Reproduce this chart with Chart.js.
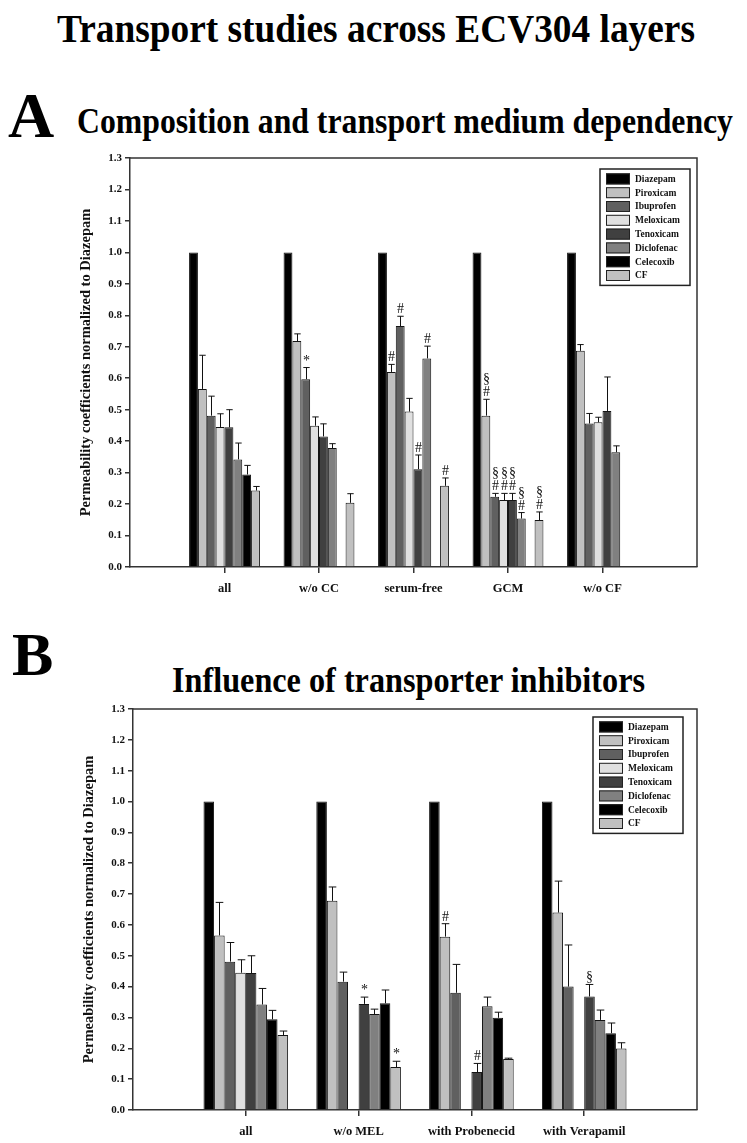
<!DOCTYPE html>
<html>
<head>
<meta charset="utf-8">
<script src="https://cdn.jsdelivr.net/npm/chart.js@4.4.0/dist/chart.umd.min.js"></script>
<style>
body { margin:0; background:#fff; width:747px; height:1143px; position:relative; overflow:hidden;
       font-family:"Liberation Serif","Times New Roman",serif; }
.hd { position:absolute; font-weight:bold; white-space:nowrap; line-height:1; transform-origin:left top; color:#000; }
.box { position:absolute; left:0; width:747px; }
</style>
</head>
<body>
<div class="hd" style="left:57px;top:8px;font-size:41px" data-w="638">Transport studies across ECV304 layers</div>
<div class="hd" style="left:8px;top:84px;font-size:64px">A</div>
<div class="hd" style="left:77px;top:103px;font-size:36px" data-w="656">Composition and transport medium dependency</div>
<div class="hd" style="left:12px;top:623px;font-size:62px">B</div>
<div class="hd" style="left:172px;top:663px;font-size:35px" data-w="473">Influence of transporter inhibitors</div>

<div class="box" style="top:140px;height:480px"><canvas id="chartA" width="747" height="480"></canvas></div>
<div class="box" style="top:690px;height:453px"><canvas id="chartB" width="747" height="453"></canvas></div>

<script>
// drugs (one bar each per condition)
const drugs = ['Diazepam', 'Piroxicam', 'Ibuprofen', 'Meloxicam', 'Tenoxicam', 'Diclofenac', 'Celecoxib', 'CF'];
const drugColors = ['#000000', '#c0c0c0', '#606060', '#e0e0e0', '#404040', '#808080', '#000000', '#c0c0c0'];

// panel A - composition and transport medium
const conditionsA = ['all', 'w/o CC', 'serum-free', 'GCM', 'w/o CF'];
const allMean       = [1, 0.566, 0.481, 0.445, 0.444, 0.342, 0.294, 0.243];
const allErr        = [0, 0.107, 0.062, 0.042, 0.056, 0.052, 0.029, 0.013];
const allMarks      = ['', '', '', '', '', '', '', ''];
const woCCMean      = [1, 0.718, 0.597, 0.449, 0.415, 0.378, null, 0.204];
const woCCErr       = [0, 0.023, 0.037, 0.028, 0.040, 0.014, null, 0.029];
const woCCMarks     = ['', '', '*', '', '', '', '', ''];
const serumFreeMean = [1, 0.620, 0.766, 0.494, 0.311, 0.663, null, 0.258];
const serumFreeErr  = [0, 0.024, 0.031, 0.042, 0.045, 0.039, null, 0.025];
const serumFreeMarks= ['', '#', '#', '', '#', '#', '', '#'];
const gcmMean       = [1, 0.481, 0.223, 0.213, 0.213, 0.154, null, 0.149];
const gcmErr        = [0, 0.052, 0.011, 0.021, 0.021, 0.019, null, 0.026];
const gcmMarks      = ['', '§\n#', '§\n#', '§\n#', '§\n#', '§\n#', '', '§\n#'];
const woCFMean      = [1, 0.687, 0.456, 0.460, 0.496, 0.365, null, null];
const woCFErr       = [0, 0.020, 0.032, 0.016, 0.108, 0.020, null, null];
const woCFMarks     = ['', '', '', '', '', '', '', ''];

// panel B - transporter inhibitors
const conditionsB = ['all', 'w/o MEL', 'with Probenecid', 'with Verapamil'];
const woMELMean       = [1, 0.678, 0.416, null, 0.344, 0.311, 0.346, 0.139];
const woMELErr        = [0, 0.045, 0.031, null, 0.022, 0.016, 0.043, 0.019];
const woMELMarks      = ['', '', '', '', '*', '', '', '*'];
const probenecidMean  = [1, 0.562, 0.380, null, 0.123, 0.336, 0.299, 0.165];
const probenecidErr   = [0, 0.042, 0.092, null, 0.028, 0.030, 0.018, 0.003];
const probenecidMarks = ['', '#', '', '', '#', '', '', ''];
const verapamilMean   = [1, 0.640, 0.400, null, 0.368, 0.292, 0.249, 0.199];
const verapamilErr    = [0, 0.102, 0.135, null, 0.039, 0.032, 0.033, 0.019];
const verapamilMarks  = ['', '', '', '', '§', '', '', ''];

const yTicks = { min: 0, max: 1.3, step: 0.1 };
const yTitle = 'Permeability coefficients normalized to Diazepam';

const FONT = '"Liberation Serif", "Times New Roman", serif';
const AXIS = '#333';

// squeeze headings to the width they have in the figure
document.querySelectorAll('.hd[data-w]').forEach(el => {
    const w = el.getBoundingClientRect().width;
    el.style.transform = 'scaleX(' + (parseFloat(el.dataset.w) / w) + ')';
});

function buildDatasets(means, errs, marks) {
    return drugs.map((name, i) => ({
        label: name,
        data: [null].concat(means.map(r => r[i]), [null]),
        errors: [null].concat(errs.map(r => r[i]), [null]),
        marks: [''].concat(marks.map(r => r[i]), ['']),
        backgroundColor: drugColors[i],
        borderColor: '#151515',
        borderWidth: 1,
        barPercentage: 1.0,
        categoryPercentage: 0.75
    }));
}

// upper error bars + significance symbols
const errorBars = {
    id: 'errorBars',
    afterDatasetsDraw(chart) {
        const ctx = chart.ctx;
        const y = chart.scales.y;
        ctx.save();
        ctx.strokeStyle = '#111';
        ctx.fillStyle = '#111';
        ctx.lineWidth = 1;
        chart.data.datasets.forEach((ds, di) => {
            const meta = chart.getDatasetMeta(di);
            meta.data.forEach((bar, j) => {
                const v = ds.data[j];
                if (v == null) return;
                const e = ds.errors[j] || 0;
                const top = y.getPixelForValue(v + e);
                const x = Math.round(bar.x) + 0.5;
                if (e > 0) {
                    const cap = bar.width * 0.36;
                    ctx.beginPath();
                    ctx.moveTo(x, bar.y);
                    ctx.lineTo(x, top);
                    ctx.moveTo(x - cap, top);
                    ctx.lineTo(x + cap, top);
                    ctx.stroke();
                }
                const m = ds.marks[j];
                if (m) {
                    ctx.font = '14px ' + FONT;
                    ctx.textAlign = 'center';
                    ctx.textBaseline = 'alphabetic';
                    const lines = m.split('\n').reverse();
                    lines.forEach((t, k) => ctx.fillText(t, x, top - 3 - k * 13));
                }
            });
        });
        ctx.restore();
    }
};

// closes the plot frame (top and right)
const frame = {
    id: 'frame',
    beforeDatasetsDraw(chart) {
        const a = chart.chartArea;
        const ctx = chart.ctx;
        ctx.save();
        ctx.strokeStyle = AXIS;
        ctx.lineWidth = 1.5;
        ctx.beginPath();
        ctx.moveTo(a.left, a.top);
        ctx.lineTo(a.right, a.top);
        ctx.lineTo(a.right, a.bottom);
        ctx.stroke();
        ctx.restore();
    }
};

// boxed legend inside the plot, top right
const boxLegend = {
    id: 'boxLegend',
    afterDraw(chart, args, opts) {
        const a = chart.chartArea;
        const ctx = chart.ctx;
        const n = chart.data.datasets.length;
        const x0 = a.right - opts.right - opts.width;
        const y0 = a.top + opts.top;
        const h = opts.pad * 2 + n * opts.row;
        ctx.save();
        ctx.fillStyle = '#fff';
        ctx.fillRect(x0, y0, opts.width, h);
        ctx.strokeStyle = '#222';
        ctx.lineWidth = 1.5;
        ctx.strokeRect(x0, y0, opts.width, h);
        ctx.font = 'bold 9.5px ' + FONT;
        ctx.textBaseline = 'middle';
        ctx.textAlign = 'left';
        chart.data.datasets.forEach((ds, i) => {
            const cy = y0 + opts.pad + opts.row * (i + 0.5);
            ctx.fillStyle = ds.backgroundColor;
            ctx.fillRect(x0 + 6, cy - 5.5, 24, 11);
            ctx.strokeStyle = '#222';
            ctx.lineWidth = 1;
            ctx.strokeRect(x0 + 6.5, cy - 5, 23, 10);
            ctx.fillStyle = '#111';
            ctx.fillText(ds.label, x0 + 35, cy + 0.5);
        });
        ctx.restore();
    }
};

function makeChart(id, conditions, datasets, lay) {
    const labels = [''].concat(conditions, ['']);
    const last = labels.length - 1;
    return new Chart(document.getElementById(id), {
        type: 'bar',
        data: { labels: labels, datasets: datasets },
        options: {
            responsive: false,
            animation: false,
            devicePixelRatio: 1,
            layout: { padding: lay.padding },
            plugins: {
                legend: { display: false },
                tooltip: { enabled: false },
                boxLegend: lay.legend
            },
            scales: {
                x: {
                    offset: false,
                    grid: {
                        offset: false,
                        drawOnChartArea: false,
                        drawTicks: true,
                        tickLength: 6,
                        lineWidth: 1.5,
                        color: c => (c.index === 0 || c.index === last) ? 'rgba(0,0,0,0)' : AXIS
                    },
                    border: { color: AXIS, width: 1.5 },
                    ticks: { autoSkip: false, maxRotation: 0, color: '#111', padding: lay.xPad,
                             font: { family: FONT, size: 12.5, weight: 'bold' } },
                    afterFit: s => { s.height = lay.xHeight; }
                },
                y: {
                    min: yTicks.min,
                    max: yTicks.max,
                    grid: { drawOnChartArea: false, tickLength: 5, lineWidth: 1.5, color: AXIS },
                    border: { color: AXIS, width: 1.5 },
                    ticks: { stepSize: yTicks.step, color: '#111', padding: 3,
                             callback: v => v.toFixed(1),
                             font: { family: FONT, size: 11, weight: 'bold' } },
                    title: { display: true, text: yTitle, color: '#111', padding: { top: 3, bottom: 0 },
                             font: { family: FONT, size: 14.5, weight: 'bold' } },
                    afterFit: s => { s.width = 55; }
                }
            }
        },
        plugins: [frame, errorBars, boxLegend]
    });
}

makeChart('chartA', conditionsA,
    buildDatasets(
        [allMean, woCCMean, serumFreeMean, gcmMean, woCFMean],
        [allErr, woCCErr, serumFreeErr, gcmErr, woCFErr],
        [allMarks, woCCMarks, serumFreeMarks, gcmMarks, woCFMarks]),
    { padding: { left: 75, right: 50, top: 18, bottom: 13 }, xHeight: 40, xPad: 8,
      legend: { right: 7, top: 11, width: 90, row: 13.8, pad: 3 } });

makeChart('chartB', conditionsB,
    buildDatasets(
        [allMean, woMELMean, probenecidMean, verapamilMean],
        [allErr, woMELErr, probenecidErr, verapamilErr],
        [allMarks, woMELMarks, probenecidMarks, verapamilMarks]),
    { padding: { left: 78, right: 50, top: 19, bottom: 5 }, xHeight: 28, xPad: 8,
      legend: { right: 14, top: 8, width: 90, row: 13.8, pad: 3 } });
</script>
</body>
</html>
